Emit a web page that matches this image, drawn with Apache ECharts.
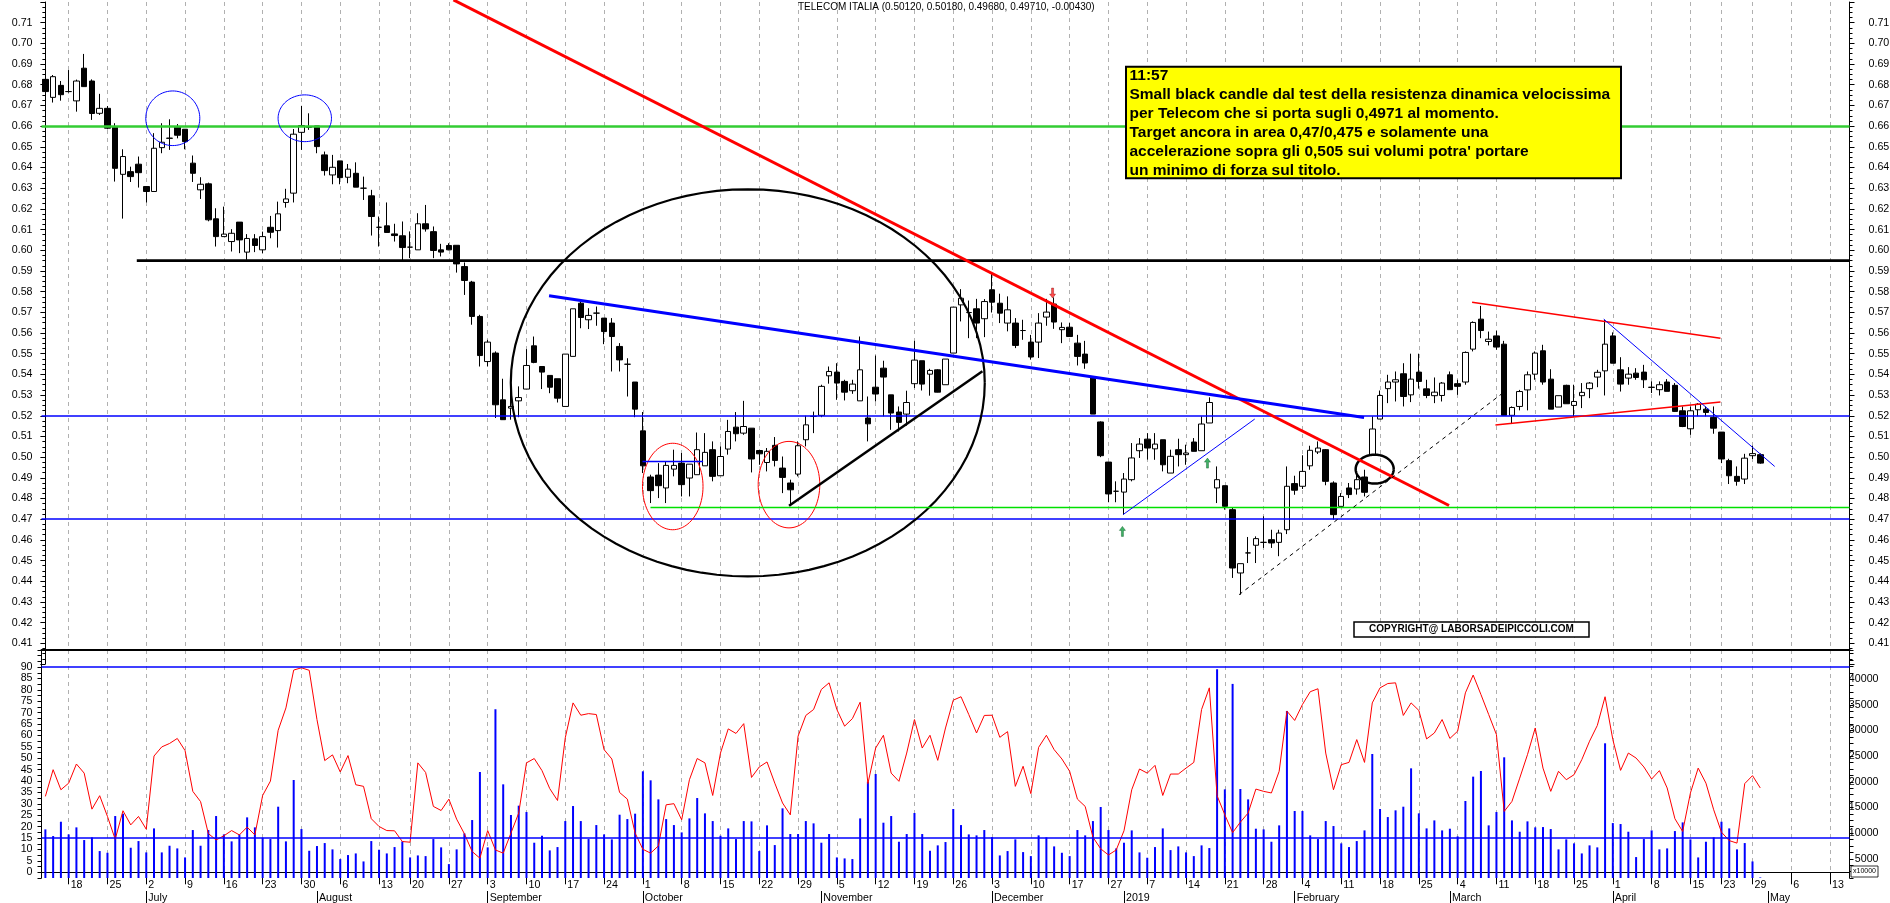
<!DOCTYPE html>
<html><head><meta charset="utf-8">
<script src="https://cdn.jsdelivr.net/npm/echarts@6/dist/echarts.min.js"></script>
<style>html,body{margin:0;padding:0;background:#fff;}#c{width:1890px;height:903px;}</style>
</head><body><div id="c"></div>
<script>
// ---------- DATA ----------
const holidays = ['2018-08-15','2018-12-24','2018-12-25','2018-12-26','2018-12-31','2019-01-01','2019-04-19','2019-04-22'];
const firstDay = '2018-06-13', lastDay = '2019-05-15';

const weekTicks = ['2018-06-18','2018-06-25','2018-07-02','2018-07-09','2018-07-16','2018-07-23','2018-07-30','2018-08-06','2018-08-13','2018-08-20','2018-08-27','2018-09-03','2018-09-10','2018-09-17','2018-09-24','2018-10-01','2018-10-08','2018-10-15','2018-10-22','2018-10-29','2018-11-05','2018-11-12','2018-11-19','2018-11-26','2018-12-03','2018-12-10','2018-12-17','2018-12-27','2019-01-07','2019-01-14','2019-01-21','2019-01-28','2019-02-04','2019-02-11','2019-02-18','2019-02-25','2019-03-04','2019-03-11','2019-03-18','2019-03-25','2019-04-01','2019-04-08','2019-04-15','2019-04-23','2019-04-29','2019-05-06','2019-05-13'];
const monthTickDates = ['2018-07-02','2018-08-01','2018-09-03','2018-10-01','2018-11-01','2018-12-03','2019-01-02','2019-02-01','2019-03-01','2019-04-01','2019-05-01'];
const monthTickLabels = ['July','August','September','October','November','December','2019','February','March','April','May'];

const opens = [0.6826,0.6739,0.6797,0.6767,0.6722,0.6880,0.6818,0.6662,0.6686,0.6595,
0.6367,0.6380,0.6416,0.6308,0.6284,0.6496,0.6541,0.6595,0.6585,0.6421,
0.6292,0.6321,0.6152,0.6066,0.6042,0.6136,0.5991,0.6055,0.6002,0.6111,
0.6095,0.6231,0.6276,0.6570,0.6594,0.6601,0.6461,0.6364,0.6432,0.6353,
0.6372,0.6300,0.6263,0.6111,0.6118,0.6079,0.6070,0.6015,0.6002,0.6128,
0.6090,0.6002,0.6023,0.6024,0.5921,0.5846,0.5680,0.5462,0.5503,0.5277,
0.5237,0.5272,0.5329,0.5538,0.5438,0.5395,0.5379,0.5245,0.5487,0.5744,
0.5664,0.5696,0.5672,0.5648,0.5535,0.5449,0.5363,0.5127,0.4904,0.4913,
0.4851,0.4942,0.4971,0.4899,0.4915,0.4958,0.5036,0.4910,0.5039,0.5145,
0.5116,0.5140,0.5032,0.4974,0.5057,0.4947,0.4875,0.4918,0.5084,0.5197,
0.5202,0.5393,0.5411,0.5366,0.5321,0.5272,0.5189,0.5338,0.5430,0.5301,
0.5218,0.5208,0.5355,0.5466,0.5401,0.5422,0.5350,0.5503,0.5736,0.5699,
0.5717,0.5669,0.5809,0.5744,0.5648,0.5648,0.5612,0.5556,0.5556,0.5677,
0.5740,0.5616,0.5628,0.5551,0.5498,0.5387,0.5170,0.4976,0.4835,0.4831,
0.4891,0.5031,0.5087,0.5040,0.5084,0.4923,0.5036,0.5012,0.5073,0.5031,
0.5165,0.4851,0.4862,0.4746,0.4440,0.4537,0.4574,0.4588,0.4601,0.4588,
0.4649,0.4872,0.4859,0.4958,0.5025,0.5036,0.4875,0.4762,0.4851,0.4846,
0.4904,0.5012,0.5184,0.5331,0.5363,0.5403,0.5301,0.5411,0.5330,0.5297,
0.5298,0.5398,0.5355,0.5363,0.5522,0.5667,0.5559,0.5586,0.5546,0.5202,
0.5245,0.5325,0.5401,0.5514,0.5377,0.5242,0.5347,0.5250,0.5297,0.5331,
0.5387,0.5417,0.5586,0.5422,0.5382,0.5406,0.5411,0.5337,0.5326,0.5363,
0.5347,0.5224,0.5137,0.5229,0.5232,0.5192,0.5121,0.4983,0.4907,0.4894,
0.5007,0.5012];
const highs = [0.6860,0.6847,0.6818,0.6871,0.6825,0.6949,0.6826,0.6756,0.6697,0.6614,
0.6488,0.6404,0.6453,0.6308,0.6566,0.6614,0.6633,0.6610,0.6585,0.6458,
0.6353,0.6327,0.6203,0.6211,0.6102,0.6136,0.6078,0.6078,0.6090,0.6166,
0.6235,0.6297,0.6586,0.6698,0.6662,0.6601,0.6477,0.6461,0.6432,0.6417,
0.6425,0.6356,0.6292,0.6163,0.6231,0.6128,0.6139,0.6091,0.6179,0.6219,
0.6115,0.6031,0.6034,0.6024,0.5941,0.5852,0.5688,0.5567,0.5511,0.5379,
0.5342,0.5342,0.5522,0.5583,0.5438,0.5395,0.5379,0.5498,0.5717,0.5755,
0.5720,0.5728,0.5672,0.5672,0.5551,0.5478,0.5363,0.5218,0.4915,0.4971,
0.4979,0.5036,0.5020,0.4966,0.5119,0.5116,0.5076,0.5052,0.5180,0.5218,
0.5272,0.5140,0.5036,0.5044,0.5097,0.5003,0.4891,0.5076,0.5200,0.5220,
0.5350,0.5438,0.5454,0.5374,0.5374,0.5583,0.5293,0.5491,0.5466,0.5301,
0.5245,0.5321,0.5562,0.5466,0.5427,0.5425,0.5474,0.5725,0.5812,0.5757,
0.5765,0.5764,0.5889,0.5790,0.5777,0.5672,0.5664,0.5591,0.5696,0.5765,
0.5772,0.5651,0.5648,0.5591,0.5562,0.5390,0.5173,0.4976,0.4883,0.4923,
0.5068,0.5092,0.5116,0.5116,0.5084,0.5036,0.5089,0.5060,0.5092,0.5197,
0.5289,0.4955,0.4862,0.4754,0.4485,0.4614,0.4617,0.4714,0.4649,0.4649,
0.4955,0.4910,0.5009,0.5055,0.5076,0.5039,0.4883,0.4826,0.4875,0.4915,
0.4939,0.5197,0.5322,0.5398,0.5414,0.5454,0.5500,0.5500,0.5374,0.5385,
0.5363,0.5414,0.5374,0.5511,0.5656,0.5731,0.5607,0.5611,0.5562,0.5245,
0.5325,0.5414,0.5511,0.5543,0.5425,0.5297,0.5350,0.5350,0.5358,0.5363,
0.5422,0.5664,0.5603,0.5483,0.5435,0.5430,0.5446,0.5366,0.5366,0.5377,
0.5358,0.5245,0.5245,0.5261,0.5245,0.5245,0.5121,0.4992,0.4955,0.5016,
0.5055,0.5018];
const lows = [0.6762,0.6714,0.6723,0.6762,0.6670,0.6790,0.6630,0.6654,0.6585,0.6332,
0.6153,0.6330,0.6303,0.6231,0.6284,0.6469,0.6485,0.6541,0.6488,0.6330,
0.6248,0.6140,0.6018,0.6066,0.5994,0.5986,0.5954,0.5991,0.5986,0.6058,
0.6013,0.6206,0.6231,0.6485,0.6582,0.6469,0.6361,0.6319,0.6319,0.6324,
0.6305,0.6243,0.6071,0.6018,0.6086,0.6042,0.5946,0.5962,0.6002,0.6090,
0.5962,0.5970,0.6000,0.5892,0.5784,0.5640,0.5438,0.5438,0.5189,0.5180,
0.5181,0.5193,0.5329,0.5454,0.5329,0.5309,0.5264,0.5245,0.5487,0.5623,
0.5619,0.5635,0.5546,0.5414,0.5414,0.5293,0.5193,0.4923,0.4778,0.4802,
0.4778,0.4907,0.4810,0.4810,0.4915,0.4958,0.4883,0.4910,0.5012,0.5076,
0.5108,0.4926,0.4963,0.4931,0.4955,0.4826,0.4765,0.4907,0.5052,0.5116,
0.5193,0.5355,0.5277,0.5274,0.5306,0.5272,0.5076,0.5269,0.5197,0.5132,
0.5124,0.5152,0.5334,0.5322,0.5297,0.5313,0.5350,0.5503,0.5656,0.5575,
0.5575,0.5580,0.5699,0.5648,0.5608,0.5527,0.5567,0.5471,0.5479,0.5635,
0.5620,0.5551,0.5583,0.5443,0.5427,0.5208,0.5000,0.4782,0.4782,0.4722,
0.4883,0.4996,0.4988,0.4987,0.4931,0.4923,0.4955,0.4963,0.5028,0.5031,
0.5165,0.4778,0.4746,0.4416,0.4335,0.4488,0.4488,0.4561,0.4561,0.4521,
0.4628,0.4818,0.4846,0.4939,0.5015,0.4864,0.4698,0.4762,0.4802,0.4819,
0.4810,0.5012,0.5184,0.5261,0.5269,0.5245,0.5266,0.5331,0.5285,0.5261,
0.5269,0.5326,0.5301,0.5350,0.5511,0.5575,0.5540,0.5519,0.5202,0.5160,
0.5226,0.5226,0.5374,0.5350,0.5232,0.5242,0.5258,0.5194,0.5237,0.5285,
0.5338,0.5298,0.5454,0.5317,0.5350,0.5374,0.5334,0.5310,0.5298,0.5318,
0.5218,0.5145,0.5108,0.5197,0.5197,0.5113,0.4971,0.4870,0.4862,0.4870,
0.4991,0.4968];
const closes = [0.6767,0.6839,0.6752,0.6767,0.6818,0.6791,0.6661,0.6686,0.6590,0.6396,
0.6453,0.6356,0.6375,0.6284,0.6493,0.6522,0.6542,0.6556,0.6525,0.6372,
0.6319,0.6147,0.6066,0.6078,0.6082,0.6050,0.6057,0.6023,0.6066,0.6087,
0.6176,0.6248,0.6561,0.6603,0.6596,0.6501,0.6385,0.6401,0.6351,0.6392,
0.6305,0.6300,0.6163,0.6111,0.6086,0.6071,0.6013,0.6015,0.6128,0.6103,
0.5999,0.5991,0.6002,0.5934,0.5854,0.5680,0.5491,0.5556,0.5253,0.5181,
0.5245,0.5288,0.5443,0.5458,0.5411,0.5338,0.5285,0.5498,0.5717,0.5675,
0.5685,0.5696,0.5607,0.5583,0.5470,0.5449,0.5232,0.4958,0.4838,0.4862,
0.4960,0.4960,0.4867,0.4966,0.5036,0.5023,0.4907,0.5003,0.5124,0.5113,
0.5148,0.4991,0.5016,0.5028,0.4984,0.4902,0.4842,0.5055,0.5156,0.5197,
0.5342,0.5414,0.5358,0.5314,0.5353,0.5422,0.5161,0.5305,0.5387,0.5213,
0.5168,0.5264,0.5469,0.5353,0.5419,0.5314,0.5474,0.5725,0.5768,0.5699,
0.5648,0.5752,0.5749,0.5696,0.5712,0.5540,0.5612,0.5484,0.5648,0.5701,
0.5653,0.5627,0.5583,0.5487,0.5455,0.5208,0.5007,0.4822,0.4835,0.4894,
0.4996,0.5063,0.5044,0.5063,0.4963,0.5004,0.5012,0.5020,0.5028,0.5160,
0.5264,0.4891,0.4762,0.4464,0.4485,0.4537,0.4606,0.4588,0.4585,0.4633,
0.4859,0.4840,0.4931,0.5033,0.5044,0.4883,0.4722,0.4810,0.4819,0.4891,
0.4830,0.5136,0.5298,0.5363,0.5374,0.5293,0.5377,0.5366,0.5298,0.5314,
0.5358,0.5326,0.5342,0.5506,0.5651,0.5612,0.5570,0.5532,0.5202,0.5240,
0.5317,0.5398,0.5503,0.5363,0.5232,0.5297,0.5258,0.5269,0.5313,0.5358,
0.5410,0.5546,0.5454,0.5353,0.5401,0.5385,0.5374,0.5338,0.5350,0.5318,
0.5221,0.5148,0.5224,0.5256,0.5216,0.5140,0.4991,0.4910,0.4883,0.4995,
0.5017,0.4971];
const volumes = [10730,9430,12220,9750,11120,8650,9170,6500,6170,13330,
13790,7150,8450,6240,10920,6240,7540,7020,5260,10600,
7540,10600,13330,9750,8390,9750,13070,11120,9100,8840,
15150,8390,20360,10790,6560,7480,8060,6830,4940,5720,
6040,4480,8450,6760,6040,7280,8390,5260,5650,5520,
8840,7220,3960,6830,9950,12550,21920,7220,34150,19510,
13530,15350,14110,8130,9490,6630,7280,12350,15280,12350,
8840,11570,9750,8780,13590,12740,13790,22050,20290,16580,
12740,11570,10140,12870,16840,13850,12350,9490,10920,8840,
12350,12290,6500,11510,7670,14830,9820,9820,12350,11900,
8130,9820,5260,5070,4940,12870,20030,21530,12030,13330,
8320,9820,13920,9820,6560,7610,8260,14700,11570,9750,
9560,10600,9230,5650,6500,8780,6300,5520,9560,9170,
7410,6170,5520,10600,9560,12350,15090,10600,7020,8130,
10530,6240,5200,7280,10920,6690,7410,6240,5520,7610,
7090,41950,18530,39090,18600,16580,10860,10730,8320,11510,
33820,14310,14310,9560,8840,12350,11380,8000,7280,8450,
10530,25430,14700,13130,14440,15150,22630,13850,10920,12480,
10530,10860,9360,16260,21010,22110,11510,14110,24780,12480,
10270,12290,11120,11180,10790,6830,8780,8000,6040,7610,
7220,27510,11960,11770,10270,5330,8840,10530,6830,7020,
10400,12090,8780,5260,8320,9170,12220,10920,6830,8060,
4480,1360];
const oscillator = [33.3,45.0,36.2,39.1,47.5,43.5,27.7,33.6,24.5,14.5,
27.0,20.8,24.5,18.9,51.0,55.0,56.5,58.7,53.4,35.5,
31.0,17.0,14.2,16.0,18.3,16.4,19.8,16.4,33.7,40.0,
62.3,72.1,88.7,89.7,88.6,67.0,49.0,51.5,44.0,51.2,
38.4,37.7,23.5,20.1,18.3,18.2,13.5,13.2,48.0,43.8,
28.9,27.1,32.1,23.3,16.9,9.1,6.2,18.3,9.8,8.4,
17.2,26.0,48.0,49.9,44.6,36.7,31.5,59.0,74.3,68.9,
69.6,69.2,53.8,49.7,35.0,32.1,17.2,10.1,8.4,11.6,
29.6,30.1,23.0,40.6,49.9,48.0,33.7,52.3,62.9,60.9,
65.2,41.6,46.2,48.4,39.1,30.4,25.2,59.7,68.8,71.4,
80.2,83.1,71.4,64.1,67.4,74.6,38.9,54.5,60.1,43.5,
39.9,52.3,67.0,54.5,60.1,49.1,63.3,75.5,77.0,69.2,
61.1,68.8,68.9,59.2,61.7,37.7,46.5,34.5,54.8,60.1,
53.8,49.7,44.3,32.1,28.9,15.4,10.3,7.6,9.8,18.2,
36.2,45.3,43.5,46.9,33.7,43.1,43.1,45.7,48.2,71.4,
80.9,33.6,25.2,17.4,22.0,26.0,36.5,35.5,34.8,44.3,
70.7,66.6,73.6,79.2,80.5,52.3,36.2,47.2,48.2,58.2,
48.2,74.3,80.9,82.8,83.1,68.8,74.3,71.0,58.5,61.1,
67.0,58.7,61.9,78.7,86.5,78.0,69.2,60.4,26.7,31.1,
41.3,51.6,63.3,45.7,35.5,44.3,40.6,42.8,49.4,57.5,
64.4,77.0,58.2,44.7,52.3,50.1,46.2,40.9,44.6,37.0,
23.5,17.9,34.8,45.7,39.1,27.4,17.6,13.9,12.8,38.9,
42.4,37.0];
const oscLevels = [90, 15];

// horizontal price levels
const levelGreen = 0.6638, levelBlack = 0.595, levelBlueHi = 0.516, levelBlueLo = 0.470, levelLightGreen = 0.4757;
// drawn trend lines: [x index, price] pairs
const redTrend = [[52.59, 0.7210], [180.89, 0.4766]];
const blueTrend = [[64.91, 0.5780], [169.94, 0.5192]];
const blackSupport = [[95.84, 0.4765], [120.76, 0.5415]];
const blueShort = [[76.95, 0.4979], [84.76, 0.4979]];
const blueThinUp = [[138.88, 0.4722], [155.85, 0.5184]];
const blackDashed = [[153.83, 0.4335], [187.65, 0.5305]];
const redUpper = [[183.86, 0.5749], [215.87, 0.5575]];
const redLower = [[186.87, 0.5155], [215.87, 0.5266]];
const blueThinDown = [[200.83, 0.5667], [222.86, 0.4955]];
const blackLevelSpan = [[11.78, levelBlack], [232.5, levelBlack]];
const greenLevelSpan = [[77.98, levelLightGreen], [232.5, levelLightGreen]];
// ellipses: [center index, center price, radius (index units), radius (price), kind]
const ellipses = [[90.52, 0.5359, 30.54, 0.09357, 0],[80.85, 0.4858, 3.9, 0.0209, 1],[95.83, 0.4867, 3.97, 0.0209, 1],
  [16.42, 0.6638, 3.48, 0.0132, 2],[33.43, 0.6638, 3.44, 0.0113, 2],[171.31, 0.4942, 2.45, 0.0070, 3]];
const arrowsDown = [[129.8, 0.5793]];
const arrowsUp = [[138.8, 0.4641], [149.76, 0.4971]];

const titleText = 'TELECOM ITALIA (0.50120, 0.50180, 0.49680, 0.49710, -0.00430)';
const noteLines = ['11:57','Small black candle dal test della resistenza dinamica velocissima','per Telecom che si porta sugli 0,4971 al momento.','Target ancora in area 0,47/0,475 e solamente una',"accelerazione sopra gli 0,505 sui volumi potra' portare",'un minimo di forza sul titolo.'];
const copyrightText = 'COPYRIGHT@ LABORSADEIPICCOLI.COM';

// ---------- BUILD ----------
function buildDates(){
  const out=[]; const [y0,m0,d0]=firstDay.split('-').map(Number); const [y1,m1,d1]=lastDay.split('-').map(Number);
  let t=Date.UTC(y0,m0-1,d0); const end=Date.UTC(y1,m1-1,d1);
  while(t<=end){ const d=new Date(t); const wd=d.getUTCDay(); const s=d.toISOString().slice(0,10);
    if(wd!==0&&wd!==6&&holidays.indexOf(s)<0) out.push(s); t+=86400000; }
  return out;
}
const dates = buildDates();
const weekSet = new Set(weekTicks);
const monthMap = {}; monthTickDates.forEach((d,i)=>monthMap[d]=monthTickLabels[i]);
const isWeek = (i,v)=>weekSet.has(v);
const isMonth = (i,v)=>monthMap[v]!==undefined;
const candles = opens.map((o,i)=>[o, closes[i], lows[i], highs[i]]);
const N = dates.length;
const FONT = '"Liberation Sans", Arial, sans-serif';
const gridLine = {show:true, interval:isWeek, alignWithLabel:true, lineStyle:{color:'#b0b0b0', width:1, type:[4,4]}};

function lineSeries(pts, color, width, dash){
  return {type:'line', xAxisIndex:3, yAxisIndex:0, data:pts, showSymbol:false, symbol:'none', silent:true, clip:false,
    lineStyle:{color:color, width:width, type: dash ? [4,4] : 'solid'}, z:6, animation:false};
}
const ellColors = ['#000','#ff0000','#0000ff','#000'];
const ellWidths = [2.2, 1, 1, 2.5];

const chart = echarts.init(document.getElementById('c'), null, {renderer:'canvas'});
chart.setOption({
  animation:false,
  backgroundColor:'#fff',
  grid:[
    {left:41.5, right:40.5, top:2, height:662, outerBoundsMode:'none'},
    {left:41.5, right:40.5, top:650, height:228, outerBoundsMode:'none'}
  ],
  xAxis:[
    {type:'category', gridIndex:0, data:dates, boundaryGap:true, axisLine:{show:false}, axisTick:{show:false}, axisLabel:{show:false}, splitLine:gridLine},
    {type:'category', gridIndex:1, data:dates, boundaryGap:true, position:'bottom',
      axisLine:{show:true, lineStyle:{color:'#000', width:1}},
      axisTick:{show:true, interval:isWeek, alignWithLabel:true, length:12, lineStyle:{color:'#000'}},
      axisLabel:{show:true, interval:isWeek, formatter:v=>String(Number(v.slice(8))), align:'left', padding:[0,0,0,2], margin:2, fontSize:10.67, fontFamily:FONT, color:'#000'},
      splitLine:gridLine},
    {type:'category', gridIndex:1, data:dates, boundaryGap:true, position:'bottom', offset:13,
      axisLine:{show:false},
      axisTick:{show:true, interval:isMonth, alignWithLabel:true, length:12, lineStyle:{color:'#000'}},
      axisLabel:{show:true, interval:isMonth, formatter:v=>monthMap[v]||'', align:'left', padding:[0,0,0,2], margin:2, fontSize:10.67, fontFamily:FONT, color:'#000'},
      splitLine:{show:false}},
    {type:'value', gridIndex:0, min:-0.5, max:N-0.5, show:false},
    {type:'category', gridIndex:1, data:dates, position:'top', axisLine:{show:true, lineStyle:{color:'#000', width:2}}, axisTick:{show:false}, axisLabel:{show:false}, splitLine:{show:false}}
  ],
  yAxis:[
    {type:'value', gridIndex:0, position:'left', min:0.40, max:0.72, interval:0.01,
      axisLine:{show:true, lineStyle:{color:'#000'}}, axisTick:{show:true, length:5, lineStyle:{color:'#000'}},
      minorTick:{show:true, splitNumber:4, length:3, lineStyle:{color:'#000'}}, splitLine:{show:false},
      axisLabel:{margin:9, fontSize:10.67, fontFamily:FONT, color:'#000', formatter:v=>(v<0.405||v>0.715)?'':v.toFixed(2)}},
    {type:'value', gridIndex:0, position:'right', min:0.40, max:0.72, interval:0.01,
      axisLine:{show:true, lineStyle:{color:'#000'}}, axisTick:{show:true, length:5, lineStyle:{color:'#000'}},
      minorTick:{show:true, splitNumber:4, length:3, lineStyle:{color:'#000'}}, splitLine:{show:false},
      axisLabel:{margin:19, fontSize:10.67, fontFamily:FONT, color:'#000', formatter:v=>(v<0.405||v>0.715)?'':v.toFixed(2)}},
    {type:'value', gridIndex:1, position:'left', min:-2.5, max:97.5, interval:2.5,
      axisLine:{show:true, lineStyle:{color:'#000'}}, axisTick:{show:true, length:4, lineStyle:{color:'#000'}},
      minorTick:{show:false}, splitLine:{show:false},
      axisLabel:{margin:9, fontSize:10.67, fontFamily:FONT, color:'#000', formatter:v=>{const r=Math.round(v*10)/10; return (r>=0&&r<=90&&Math.abs(r%5)<1e-6)?String(r):'';}}},
    {type:'value', gridIndex:1, position:'right', min:1250, max:45700, interval:1250,
      axisLine:{show:true, lineStyle:{color:'#000'}}, axisTick:{show:true, length:4, lineStyle:{color:'#000'}},
      splitLine:{show:false},
      axisLabel:{margin:29, align:'right', fontSize:10.67, fontFamily:FONT, color:'#000', formatter:v=>{const r=Math.round(v); return (r>=5000&&r<=40000&&r%5000===0)?String(r):'';}}}
  ],
  series:[
    {type:'candlestick', xAxisIndex:0, yAxisIndex:0, data:candles, barWidth:6, z:3,
      itemStyle:{color:'#ffffff', color0:'#000000', borderColor:'#000', borderColor0:'#000', borderColorDoji:'#000', borderWidth:1},
      markLine:{silent:true, symbol:['none','none'], animation:false, label:{show:false}, z:5,
        data:[
          {yAxis:levelGreen, lineStyle:{color:'#33cc33', width:2.5, type:'solid'}},
          {yAxis:levelBlueHi, lineStyle:{color:'#0000ff', width:1.5, type:'solid'}},
          {yAxis:levelBlueLo, lineStyle:{color:'#0000ff', width:1.5, type:'solid'}}
        ]}},
    lineSeries(blackLevelSpan, '#000', 2.8, false),
    lineSeries(greenLevelSpan, '#00e000', 1.5, false),
    lineSeries(redTrend, '#ff0000', 3, false),
    lineSeries(blueTrend, '#0000ff', 3, false),
    lineSeries(blackSupport, '#000', 2.5, false),
    lineSeries(blueShort, '#0000ff', 1.5, false),
    lineSeries(blueThinUp, '#0000ff', 1, false),
    lineSeries(blackDashed, '#000', 1, true),
    lineSeries(redUpper, '#ff0000', 1.5, false),
    lineSeries(redLower, '#ff0000', 1.5, false),
    lineSeries(blueThinDown, '#0000ff', 1, false),
    {type:'custom', xAxisIndex:3, yAxisIndex:0, data:ellipses, silent:true, z:6, clip:false,
      renderItem:(params, api)=>{
        const c = api.coord([api.value(0), api.value(1)]);
        const s = api.size([api.value(2), api.value(3)]);
        const k = api.value(4); const pts=[];
        for(let j=0;j<=96;j++){const t=j/96*2*Math.PI; pts.push([c[0]+s[0]*Math.cos(t), c[1]+s[1]*Math.sin(t)]);}
        return {type:'polyline', shape:{points:pts}, style:{stroke:ellColors[k], lineWidth:ellWidths[k], fill:null}};
      }},
    {type:'scatter', xAxisIndex:3, yAxisIndex:0, data:arrowsDown, symbol:'path://M2,0 L4,0 L4,6 L6,6 L3,10 L0,6 L2,6 Z', symbolSize:[6,10], itemStyle:{color:'#ff2020', borderColor:'#800000', borderWidth:0.5}, z:7, silent:true},
    {type:'scatter', xAxisIndex:3, yAxisIndex:0, data:arrowsUp, symbol:'path://M3,0 L6,4 L4,4 L4,10 L2,10 L2,4 L0,4 Z', symbolSize:[6,10], itemStyle:{color:'#10a040', borderColor:'#005020', borderWidth:0.5}, z:7, silent:true},
    {type:'bar', xAxisIndex:1, yAxisIndex:3, data:volumes, barWidth:2, itemStyle:{color:'#0000ff'}, z:3, silent:true},
    {type:'line', xAxisIndex:1, yAxisIndex:2, data:oscillator, showSymbol:false, symbol:'none', lineStyle:{color:'#ff0000', width:1}, z:4, silent:true,
      markLine:{silent:true, symbol:['none','none'], animation:false, label:{show:false},
        data: oscLevels.map(v=>({yAxis:v, lineStyle:{color:'#0000ff', width:1.5, type:'solid'}}))}}
  ],
  graphic:[
    {type:'text', x:798, y:2, z:100, style:{text:titleText, font:'10px '+FONT, fill:'#000', verticalAlign:'top'}},
    {type:'rect', z:100, shape:{x:1126, y:66.7, width:495, height:111.6}, style:{fill:'#ffff00', stroke:'#000', lineWidth:2}},
    {type:'text', x:1129.5, y:66, z:101, style:{text:noteLines.join('\n'), font:'bold 15.5px '+FONT, lineHeight:19, fill:'#000', verticalAlign:'top'}},
    {type:'rect', z:100, shape:{x:1354, y:622, width:235, height:15}, style:{fill:'#fff', stroke:'#000', lineWidth:1.5}},
    {type:'text', x:1471.5, y:629.5, z:101, style:{text:copyrightText, font:'bold 10px '+FONT, fill:'#000', align:'center', verticalAlign:'middle'}},
    {type:'rect', z:100, shape:{x:1851, y:866, width:27, height:11}, style:{fill:'#fff', stroke:'#000', lineWidth:0.8}},
    {type:'text', x:1864.5, y:871.5, z:101, style:{text:'x10000', font:'7px '+FONT, fill:'#000', align:'center', verticalAlign:'middle'}}
  ]
});
</script></body></html>
